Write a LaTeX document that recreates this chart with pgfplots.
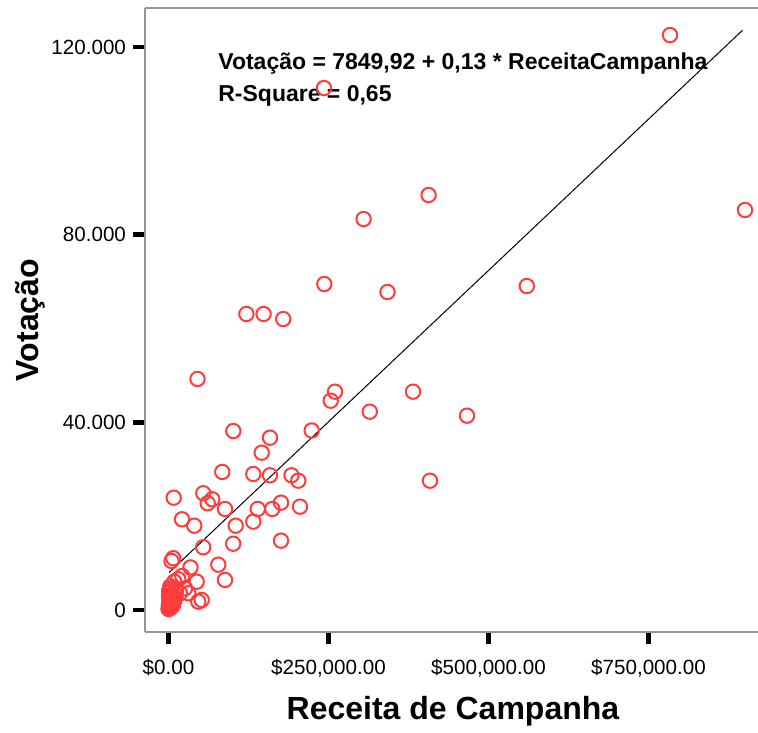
\documentclass[border=0pt]{standalone}
\usepackage{pgfplots}
\pgfplotsset{compat=1.18}
\usepackage{pgfplotstable}
\usepackage{fontspec}
\setmainfont{Liberation Sans}
\definecolor{ptred}{RGB}{255,60,60}
\definecolor{axgray}{RGB}{150,150,150}

\pgfplotstableread{
x y
783600 122530
242970 111240
406400 88440
304840 83320
900780 85240
243440 69470
559840 69040
342190 67770
121720 63080
148590 63080
179220 62010
45310 49230
260160 46520
253440 44600
382030 46520
314530 42260
466410 41410
101250 38140
223750 38250
158590 36720
145630 33520
408590 27550
84060 29410
132500 28980
158590 28700
192190 28700
202810 27550
8130 23930
54380 24870
68440 23590
61250 22740
88280 21520
139380 21520
162190 21520
175780 22870
205470 22010
21090 19330
40310 17960
105000 17960
132500 18820
175780 14770
101090 14110
54220 13360
7500 11020
4690 10440
77810 9650
34380 9060
88280 6390
44060 6030
21560 7250
15310 6540
9060 6030
25780 4620
46560 1770
51880 2130
30940 3560
17970 3560
500 300
1000 800
1500 1500
2000 2200
800 3000
3000 3800
2500 1000
4000 500
1200 2500
5000 1800
6000 2900
3500 4500
600 1200
7000 1000
9000 2000
200 200
1800 600
10000 3500
4500 3200
2800 5000
12000 4200
1000 4000
}\pts

\begin{document}
\begin{tikzpicture}
\begin{axis}[
  scale only axis,
  width=306.5pt, height=312pt,
  xmin=-36700, xmax=921100,
  ymin=-4700, ymax=128300,
  axis x line*=bottom, axis y line*=left,
  axis line style={axgray, line width=0.8pt},
  clip=false,
  xtick={0,250000,500000,750000},
  xticklabels={{\$0.00},{\$250,000.00},{\$500,000.00},{\$750,000.00}},
  ytick={0,40000,80000,120000},
  yticklabels={0,40.000,80.000,120.000},
  scaled ticks=false,
  tick align=outside,
  major tick length=6pt,
  minor tick num=0,
  every tick/.style={black, line width=2.3pt},
  tick label style={font=\fontsize{10.3}{12}\selectfont},
  xticklabel style={yshift=-4pt},
  /pgf/number format/assume math mode=true,
  xlabel={\bfseries Receita de Campanha},
  ylabel={\bfseries Votação},
  x label style={at={(axis description cs:0.5024,-0.1266)}, anchor=center, font=\fontsize{16}{19}\selectfont},
  y label style={at={(axis description cs:-0.1876,0.5)}, anchor=center, font=\fontsize{16}{19}\selectfont},
]
\draw[axgray, line width=0.8pt] (rel axis cs:0,1) -- (rel axis cs:1,1);
\addplot[black, line width=0.5pt] coordinates {(1000,7979) (897000,123563)};
\addplot[only marks, mark=o, mark size=3.6pt, mark options={draw=ptred, line width=1pt}] table[x=x,y=y] {\pts};
\node[anchor=west, font=\fontsize{11.5}{13}\selectfont\bfseries, inner sep=0pt] at (axis cs:77340,116560) {Votação = 7849,92 + 0,13 * ReceitaCampanha};
\node[anchor=west, font=\fontsize{11.5}{13}\selectfont\bfseries, inner sep=0pt] at (axis cs:77340,109530) {R-Square = 0,65};
\end{axis}
\pgfresetboundingbox
\path[use as bounding box] ([xshift=-72.5pt,yshift=-50.5pt]current axis.south west) rectangle ([yshift=4pt]current axis.north east);
\end{tikzpicture}
\end{document}
